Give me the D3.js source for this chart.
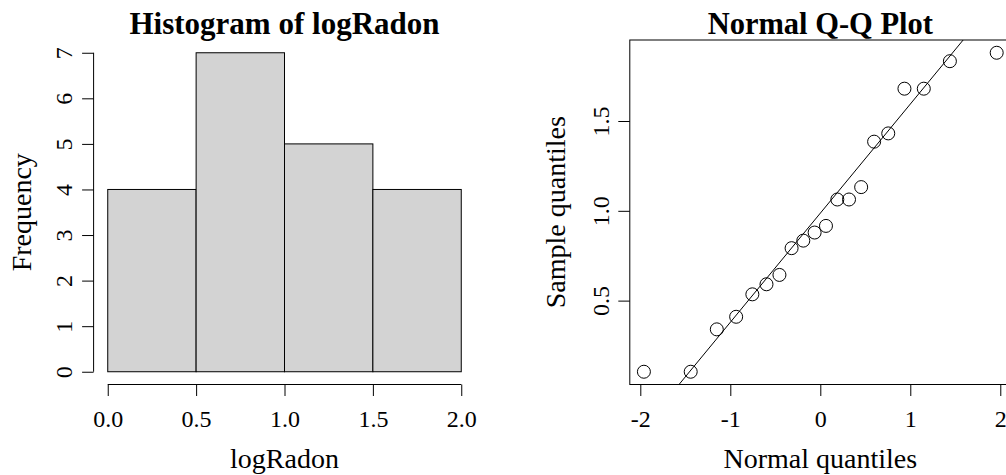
<!DOCTYPE html>
<html>
<head>
<meta charset="utf-8">
<script src="https://cdn.jsdelivr.net/npm/d3@7"></script>
<style>
body { margin: 0; background: #fff; }
text { font-family: "Liberation Serif", serif; fill: #000; }
</style>
</head>
<body>
<svg width="1006" height="475"></svg>
<script>
// histogram data
var binEdges = [0, 0.5, 1.0, 1.5, 2.0];
var binCounts = [4, 7, 5, 4];
var histTicksX = [0, 0.5, 1, 1.5, 2];
var histTicksY = [0, 1, 2, 3, 4, 5, 6, 7];

// q-q data (theoretical vs sorted sample)
var normalQuantiles = [-1.96, -1.44, -1.15, -0.935, -0.755, -0.598, -0.454, -0.319, -0.189, -0.063,
  0.063, 0.189, 0.319, 0.454, 0.598, 0.755, 0.935, 1.15, 1.44, 1.96];
var sampleQuantiles = [0.104, 0.104, 0.340, 0.410, 0.535, 0.591, 0.643, 0.792, 0.834, 0.879,
  0.916, 1.063, 1.063, 1.132, 1.385, 1.431, 1.680, 1.680, 1.833, 1.880];
var qqTicksX = [-2, -1, 0, 1, 2];
var qqTicksY = [0.5, 1.0, 1.5];
var zQuartile = 0.6745; // qnorm(0.75)

var svg = d3.select("svg");
var top_ = 40, bottom_ = 384.5;
var fontSize = 24, labSize = 28;

// R style 4% axis extension
function pad(ext) {
  var d = (ext[1] - ext[0]) * 0.04;
  return [ext[0] - d, ext[1] + d];
}

function yLabels(g, off) {
  g.selectAll(".tick text")
    .attr("x", null).attr("dy", null)
    .attr("text-anchor", "middle")
    .attr("transform", "translate(" + (-off) + ",0) rotate(-90)");
}

function styleAxis(g) {
  g.attr("font-family", null).attr("font-size", null);
  g.selectAll("text").style("font-size", fontSize + "px");
  g.selectAll("line, path").attr("stroke", "#000");
}

function addTitle(g, x, txt, size) {
  g.append("text")
    .attr("x", x).attr("y", 33.5)
    .attr("text-anchor", "middle").style("font-size", size + "px").style("font-weight", "bold")
    .text(txt);
}

// ---------- histogram ----------
var hx = d3.scaleLinear().domain(pad([binEdges[0], binEdges[binEdges.length - 1]])).range([93.6, 475.4]);
var hy = d3.scaleLinear().domain(pad([0, d3.max(binCounts)])).range([bottom_, top_]);

var hist = svg.append("g");
hist.selectAll("rect.bar")
  .data(binCounts)
  .enter().append("rect")
  .attr("class", "bar")
  .attr("x", function (d, i) { return hx(binEdges[i]); })
  .attr("width", function (d, i) { return hx(binEdges[i + 1]) - hx(binEdges[i]); })
  .attr("y", function (d) { return hy(d); })
  .attr("height", function (d) { return hy(0) - hy(d); })
  .attr("fill", "#d3d3d3")
  .attr("stroke", "#000")
  .attr("stroke-width", 1);

var hxAxis = hist.append("g")
  .attr("transform", "translate(0," + bottom_ + ")")
  .call(d3.axisBottom(hx).tickValues(histTicksX).tickFormat(d3.format(".1f")).tickSize(11.5).tickSizeOuter(0));
hxAxis.select(".domain").attr("d", "M" + hx(histTicksX[0]) + ",0H" + hx(histTicksX[histTicksX.length - 1]));
hxAxis.selectAll(".tick text").attr("y", 42).attr("dy", null);
styleAxis(hxAxis);

var hyAxis = hist.append("g")
  .attr("transform", "translate(" + hx.range()[0] + ",0)")
  .call(d3.axisLeft(hy).tickValues(histTicksY).tickFormat(d3.format("d")).tickSize(11.5).tickSizeOuter(0));
hyAxis.select(".domain").attr("d", "M0," + hy(histTicksY[0]) + "V" + hy(histTicksY[histTicksY.length - 1]));
yLabels(hyAxis, 21.5);
styleAxis(hyAxis);

addTitle(hist, (hx.range()[0] + hx.range()[1]) / 2, "Histogram of logRadon", 31);
hist.append("text")
  .attr("x", (hx.range()[0] + hx.range()[1]) / 2).attr("y", 468)
  .attr("text-anchor", "middle").style("font-size", labSize + "px")
  .text("logRadon");
hist.append("text")
  .attr("transform", "translate(31," + (top_ + bottom_) / 2 + ") rotate(-90)")
  .attr("text-anchor", "middle").style("font-size", labSize + "px")
  .text("Frequency");

// ---------- normal q-q ----------
var qx = d3.scaleLinear().domain(pad(d3.extent(normalQuantiles))).range([629.8, 1010.8]);
var qy = d3.scaleLinear().domain(pad(d3.extent(sampleQuantiles))).range([bottom_, top_]);

var qq = svg.append("g");
svg.append("defs").append("clipPath").attr("id", "qqclip")
  .append("rect")
  .attr("x", qx.range()[0]).attr("y", top_)
  .attr("width", qx.range()[1] - qx.range()[0]).attr("height", bottom_ - top_);

// qqline through the quartiles
var sorted = sampleQuantiles.slice().sort(d3.ascending);
var q1 = d3.quantile(sorted, 0.25), q3 = d3.quantile(sorted, 0.75);
var slope = (q3 - q1) / (2 * zQuartile);
var intercept = (q1 + q3) / 2;
var xd = qx.domain();
qq.append("line")
  .attr("clip-path", "url(#qqclip)")
  .attr("x1", qx(xd[0])).attr("y1", qy(intercept + slope * xd[0]))
  .attr("x2", qx(xd[1])).attr("y2", qy(intercept + slope * xd[1]))
  .attr("stroke", "#000").attr("stroke-width", 1);

qq.selectAll("circle")
  .data(normalQuantiles)
  .enter().append("circle")
  .attr("cx", function (d) { return qx(d); })
  .attr("cy", function (d, i) { return qy(sampleQuantiles[i]); })
  .attr("r", 6.5)
  .attr("fill", "none").attr("stroke", "#000").attr("stroke-width", 1);

var qxAxis = qq.append("g")
  .attr("transform", "translate(0," + bottom_ + ")")
  .call(d3.axisBottom(qx).tickValues(qqTicksX).tickFormat(function (d) { return String(d); }).tickSize(11.5).tickSizeOuter(0));
qxAxis.select(".domain").remove();
qxAxis.selectAll(".tick text").attr("y", 42).attr("dy", null);
styleAxis(qxAxis);

var qyAxis = qq.append("g")
  .attr("transform", "translate(" + qx.range()[0] + ",0)")
  .call(d3.axisLeft(qy).tickValues(qqTicksY).tickFormat(d3.format(".1f")).tickSize(11.5).tickSizeOuter(0));
qyAxis.select(".domain").remove();
yLabels(qyAxis, 21);
styleAxis(qyAxis);

qq.append("rect")
  .attr("x", qx.range()[0]).attr("y", top_)
  .attr("width", qx.range()[1] - qx.range()[0]).attr("height", bottom_ - top_)
  .attr("fill", "none").attr("stroke", "#000").attr("stroke-width", 1);

addTitle(qq, (qx.range()[0] + qx.range()[1]) / 2, "Normal Q-Q Plot", 30.5);
qq.append("text")
  .attr("x", (qx.range()[0] + qx.range()[1]) / 2).attr("y", 468)
  .attr("text-anchor", "middle").style("font-size", labSize + "px")
  .text("Normal quantiles");
qq.append("text")
  .attr("transform", "translate(565," + (top_ + bottom_) / 2 + ") rotate(-90)")
  .attr("text-anchor", "middle").style("font-size", labSize + "px")
  .text("Sample quantiles");
</script>
</body>
</html>
